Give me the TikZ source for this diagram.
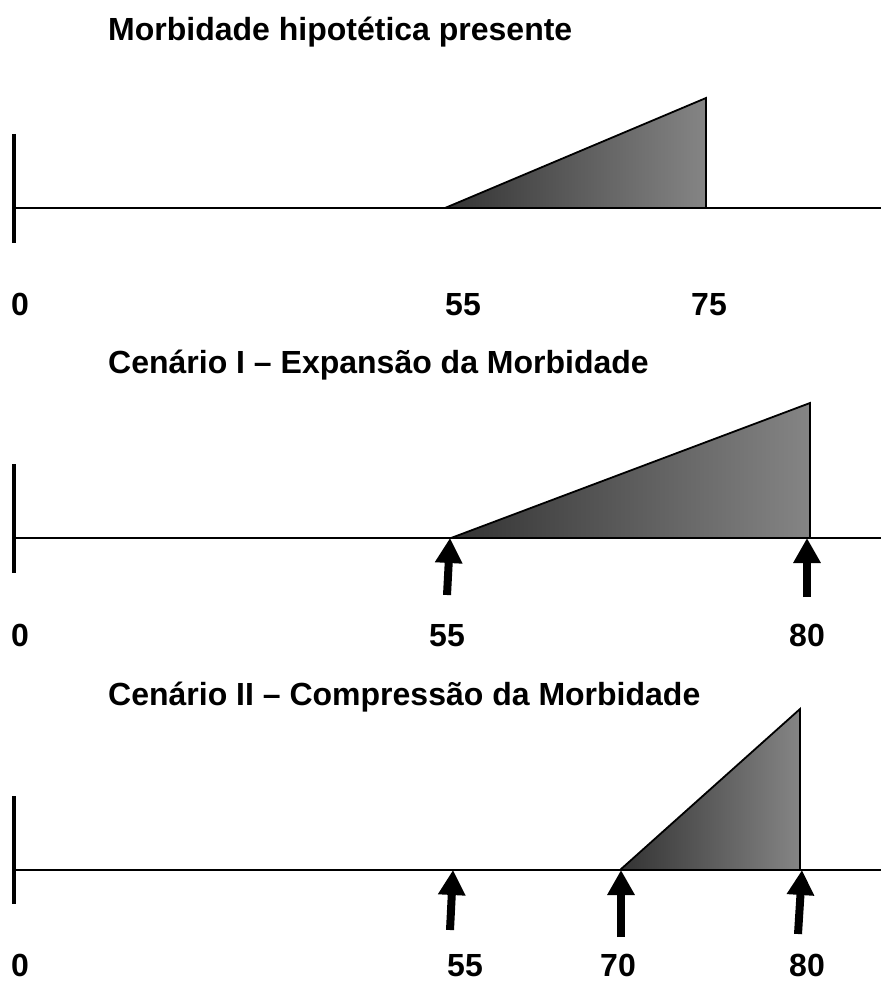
\documentclass[tikz,border=0pt]{standalone}
\usepackage{fontspec}
\setmainfont{Liberation Sans}
\usetikzlibrary{arrows.meta}
\begin{document}
\begin{tikzpicture}[x=1pt,y=-1pt,
  lbl/.style={font=\fontsize{32}{38}\selectfont\bfseries, inner sep=0pt},
  ttl/.style={lbl, anchor=base west},
  num/.style={lbl, anchor=base},
  axisline/.style={line width=1.3pt},
  bar/.style={line width=4pt},
  morb/.style={draw, line width=1.8pt, line join=miter, left color=black!80, right color=black!48},
  uparrow/.style={line width=8pt, -{Triangle[width=26pt,length=25pt]}}]
\useasboundingbox (0,0) rectangle (881,981);
% Panel 1
\node[ttl] (t1) at (108,41) {Morbidade hipotética presente};
\coordinate (a1s) at (14,208); \coordinate (a1e) at (881,208);
\coordinate (b1t) at (14,134); \coordinate (b1b) at (14,243);
\draw[axisline] (a1s) -- (a1e);
\draw[bar] (b1t) -- (b1b);
\coordinate (p1a) at (445,208); \coordinate (p1b) at (706,208); \coordinate (p1c) at (706,98);
\draw[morb] (p1a) -- (p1b) -- (p1c) -- cycle;
\node[num] (n10) at (20,315) {0};
\node[num] (n155) at (463,315) {55};
\node[num] (n175) at (709,315) {75};
% Panel 2
\node[ttl] (t2) at (108,373) {Cenário I – Expansão da Morbidade};
\coordinate (a2s) at (14,538); \coordinate (a2e) at (881,538);
\coordinate (b2t) at (14,464); \coordinate (b2b) at (14,573);
\draw[axisline] (a2s) -- (a2e);
\draw[bar] (b2t) -- (b2b);
\coordinate (p2a) at (451,538); \coordinate (p2b) at (810,538); \coordinate (p2c) at (810,403);
\draw[morb] (p2a) -- (p2b) -- (p2c) -- cycle;
\coordinate (q2a) at (447,595); \coordinate (r2a) at (450,538);
\coordinate (q2b) at (807,597); \coordinate (r2b) at (807,538);
\draw[uparrow] (q2a) -- (r2a);
\draw[uparrow] (q2b) -- (r2b);
\node[num] (n20) at (20,646) {0};
\node[num] (n255) at (447,646) {55};
\node[num] (n280) at (807,646) {80};
% Panel 3
\node[ttl] (t3) at (108,705) {Cenário II – Compressão da Morbidade};
\coordinate (a3s) at (14,870); \coordinate (a3e) at (881,870);
\coordinate (b3t) at (14,796); \coordinate (b3b) at (14,904);
\draw[axisline] (a3s) -- (a3e);
\draw[bar] (b3t) -- (b3b);
\coordinate (p3a) at (620,870); \coordinate (p3b) at (800,870); \coordinate (p3c) at (800,709);
\draw[morb] (p3a) -- (p3b) -- (p3c) -- cycle;
\coordinate (q3a) at (450,930); \coordinate (r3a) at (453,870);
\coordinate (q3b) at (621,937); \coordinate (r3b) at (621,870);
\coordinate (q3c) at (798,934); \coordinate (r3c) at (802,870);
\draw[uparrow] (q3a) -- (r3a);
\draw[uparrow] (q3b) -- (r3b);
\draw[uparrow] (q3c) -- (r3c);
\node[num] (n30) at (20,976) {0};
\node[num] (n355) at (465,976) {55};
\node[num] (n370) at (618,976) {70};
\node[num] (n380) at (807,976) {80};
\end{tikzpicture}
\end{document}
